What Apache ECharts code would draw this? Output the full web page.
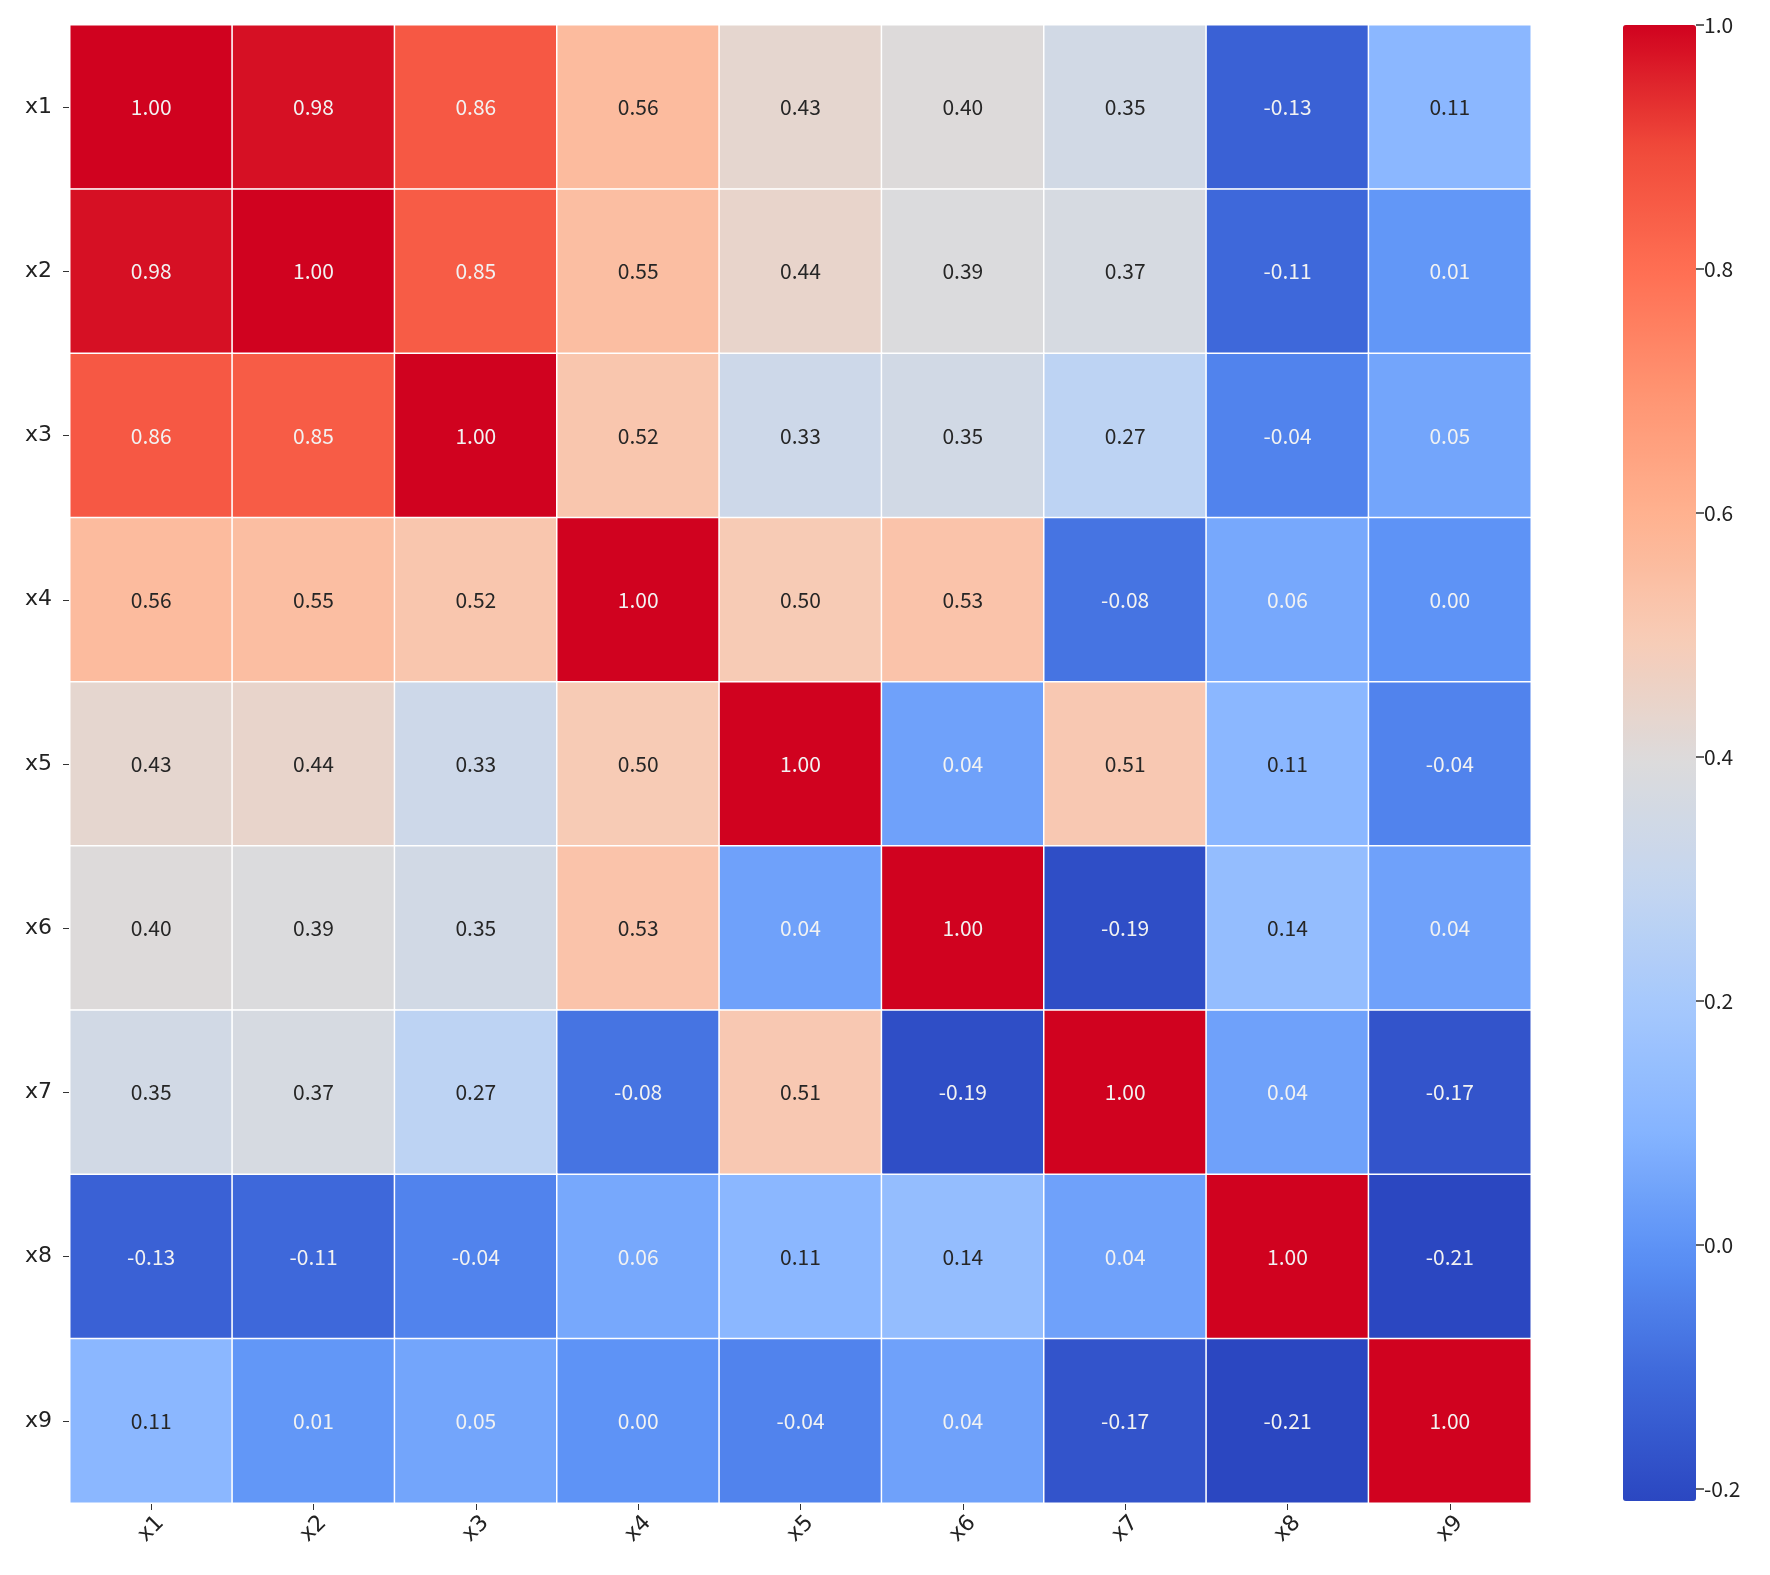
<!DOCTYPE html>
<html>
<head>
<meta charset="utf-8">
<script src="https://cdn.jsdelivr.net/npm/echarts@6/dist/echarts.min.js"></script>
<style>
  html, body { margin: 0; padding: 0; background: #fff; }
  #heatmap { width: 1770px; height: 1575px; }
</style>
</head>
<body>
<div id="heatmap"></div>
<script>
// variables, same order on both axes
var names = ['x1', 'x2', 'x3', 'x4', 'x5', 'x6', 'x7', 'x8', 'x9'];

// correlation rows
var r1 = [1.00, 0.98, 0.86, 0.56, 0.43, 0.40, 0.35, -0.13, 0.11];
var r2 = [0.98, 1.00, 0.85, 0.55, 0.44, 0.39, 0.37, -0.11, 0.01];
var r3 = [0.86, 0.85, 1.00, 0.52, 0.33, 0.35, 0.27, -0.04, 0.05];
var r4 = [0.56, 0.55, 0.52, 1.00, 0.50, 0.53, -0.08, 0.06, 0.00];
var r5 = [0.43, 0.44, 0.33, 0.50, 1.00, 0.04, 0.51, 0.11, -0.04];
var r6 = [0.40, 0.39, 0.35, 0.53, 0.04, 1.00, -0.19, 0.14, 0.04];
var r7 = [0.35, 0.37, 0.27, -0.08, 0.51, -0.19, 1.00, 0.04, -0.17];
var r8 = [-0.13, -0.11, -0.04, 0.06, 0.11, 0.14, 0.04, 1.00, -0.21];
var r9 = [0.11, 0.01, 0.05, 0.00, -0.04, 0.04, -0.17, -0.21, 1.00];

// colorbar ticks
var barTicks = [-0.2, 0.0, 0.2, 0.4, 0.6, 0.8, 1.0];

var rows = [r1, r2, r3, r4, r5, r6, r7, r8, r9];
var cells = [];
rows.forEach(function (row, i) {
    row.forEach(function (v, j) {
        // light text on the strong cells, dark text on the pale ones
        var light = v > 0.7 || v < 0.08;
        cells.push({ value: [j, i, v], label: { color: light ? '#f2f2f2' : '#262626' } });
    });
});

var chart = echarts.init(document.getElementById('heatmap'));
var option = {
    backgroundColor: '#fff',
    animation: false,
    grid: [
        { left: 70, top: 25, width: 1461, height: 1478 },
        { left: 1623, top: 25, width: 73, height: 1476 }
    ],
    xAxis: [
        {
            type: 'category',
            data: names,
            gridIndex: 0,
            axisLine: { show: false },
            axisTick: { show: true, length: 7, alignWithLabel: true, lineStyle: { color: '#333' } },
            axisLabel: {
                rotate: 45, align: 'center', verticalAlign: 'middle', margin: 26,
                fontSize: 22, color: '#222', fontFamily: 'DejaVu Sans'
            },
            splitLine: { show: false }
        },
        { type: 'value', gridIndex: 1, min: 0, max: 1, show: false }
    ],
    yAxis: [
        {
            type: 'category',
            data: names,
            inverse: true,
            gridIndex: 0,
            axisLine: { show: false },
            axisTick: { show: true, length: 7, alignWithLabel: true, lineStyle: { color: '#333' } },
            axisLabel: { margin: 18, fontSize: 22, color: '#222', fontFamily: 'DejaVu Sans' },
            splitLine: { show: false }
        },
        {
            type: 'value',
            gridIndex: 1,
            position: 'right',
            min: -0.21,
            max: 1.0,
            axisLine: { show: false, onZero: false },
            splitLine: { show: false },
            axisTick: { show: true, length: 8, customValues: barTicks, lineStyle: { color: '#333', width: 1.5 } },
            axisLabel: {
                customValues: barTicks, margin: 8, fontSize: 21, color: '#222',
                fontFamily: 'Noto Sans CJK SC',
                formatter: function (v) { return v.toFixed(1); }
            }
        }
    ],
    visualMap: {
        type: 'continuous',
        min: -0.21,
        max: 1.0,
        dimension: 2,
        seriesIndex: 0,
        calculable: false,
        orient: 'vertical',
        left: 1623,
        top: 25,
        padding: 0,
        itemWidth: 73,
        itemHeight: 1476,
        text: null,
        inRange: {
            color: ['#2b47c1', '#3e68da', '#5a90f5', '#85b4ff', '#a5c8fd', '#c4d6f0',
                    '#dcdbdc', '#f7ccb7', '#ffb290', '#ff9472', '#ff6f53', '#f04a3a', '#d0021f']
        }
    },
    series: [{
        type: 'heatmap',
        xAxisIndex: 0,
        yAxisIndex: 0,
        data: cells,
        itemStyle: { borderColor: '#fff', borderWidth: 1.5 },
        label: {
            show: true,
            fontSize: 21,
            fontFamily: 'Noto Sans CJK SC',
            formatter: function (p) { return p.value[2].toFixed(2); }
        }
    }]
};

chart.setOption(option);
window.addEventListener('resize', chart.resize);
</script>
</body>
</html>
